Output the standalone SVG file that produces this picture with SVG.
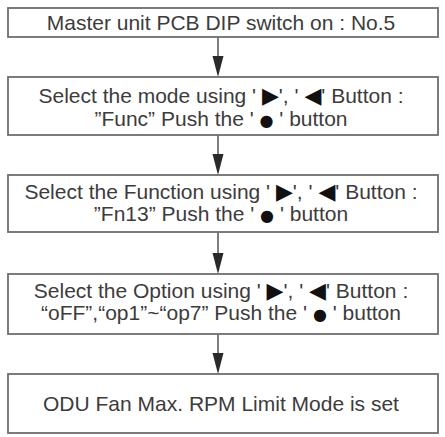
<svg xmlns="http://www.w3.org/2000/svg" width="445" height="437" viewBox="0 0 445 437">
<defs>
<style>
.box{fill:#fff;stroke:#6e6e6e;stroke-width:1.8}
.t{font-family:"Liberation Sans",Arial,sans-serif;font-size:21px;fill:#3c3c3c;text-anchor:middle}
.s{font-family:"DejaVu Sans",sans-serif;font-size:22px;fill:#111}
.d{font-family:"DejaVu Sans",sans-serif;font-size:16px;fill:#111}
.ln{stroke:#555;stroke-width:1.5;fill:none}
.ah{fill:#2a2a2a}
</style>
</defs>
<rect width="445" height="437" fill="#fff"/>
<g id="connectors">
<line class="ln" x1="218" y1="37" x2="218" y2="60"/>
<polygon class="ah" points="212.5,56 223.5,56 218,77"/>
<line class="ln" x1="218" y1="135" x2="218" y2="158"/>
<polygon class="ah" points="212.5,154 223.5,154 218,175"/>
<line class="ln" x1="218" y1="232" x2="218" y2="257"/>
<polygon class="ah" points="212.5,253 223.5,253 218,274"/>
<line class="ln" x1="218" y1="334" x2="218" y2="357"/>
<polygon class="ah" points="212.5,353 223.5,353 218,374"/>
</g>
<g id="n1">
<rect class="box" x="8" y="8" width="430" height="29"/>
<text class="t" x="221" y="30">Master unit PCB DIP switch on : No.5</text>
</g>
<g id="n2">
<rect class="box" x="8" y="77" width="430" height="58"/>
<text class="t" x="221" y="103">Select the mode using ' <tspan class="s">▶</tspan>', ' <tspan class="s">◀</tspan>' Button :</text>
<text class="t" x="221" y="126">”Func” Push the ' <tspan class="d">●</tspan> ' button</text>
</g>
<g id="n3">
<rect class="box" x="8" y="175" width="430" height="57"/>
<text class="t" x="221" y="199">Select the Function using ' <tspan class="s">▶</tspan>', ' <tspan class="s">◀</tspan>' Button :</text>
<text class="t" x="221" y="221">”Fn13” Push the ' <tspan class="d">●</tspan> ' button</text>
</g>
<g id="n4">
<rect class="box" x="8" y="274" width="430" height="60"/>
<text class="t" x="221" y="298">Select the Option using ' <tspan class="s">▶</tspan>', ' <tspan class="s">◀</tspan>' Button :</text>
<text class="t" x="221" y="320">“oFF”,“op1”~“op7” Push the ' <tspan class="d">●</tspan> ' button</text>
</g>
<g id="n5">
<rect class="box" x="8" y="374" width="430" height="59"/>
<text class="t" x="221" y="411">ODU Fan Max. RPM Limit Mode is set</text>
</g>
</svg>
